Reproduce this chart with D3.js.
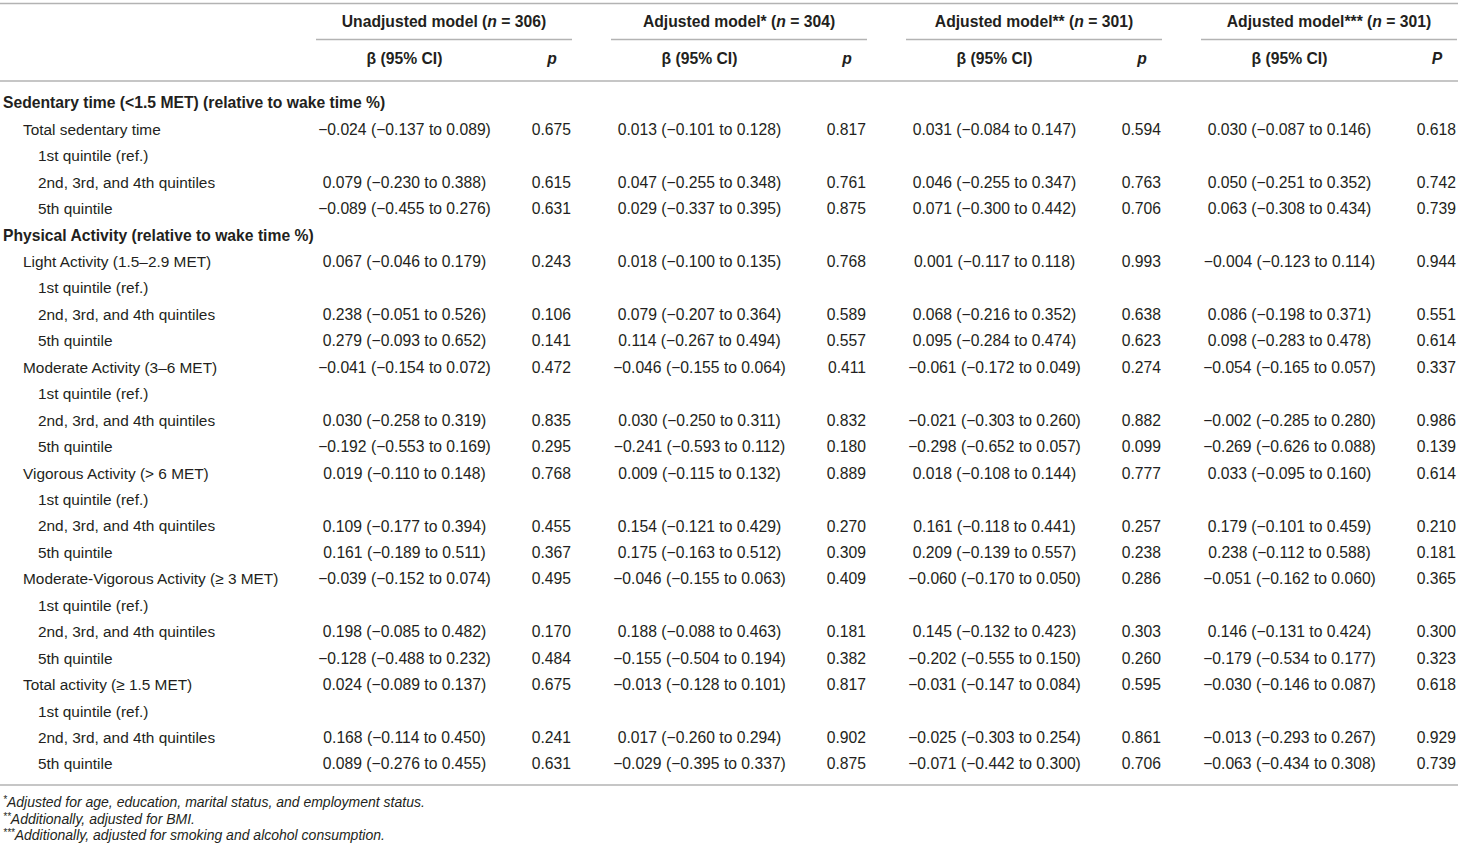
<!DOCTYPE html>
<html>
<head>
<meta charset="utf-8">
<script src="https://cdn.jsdelivr.net/npm/d3@7"></script>
<style>
html,body{margin:0;padding:0;background:#fff;}
svg{display:block;font-family:"Liberation Sans",Arial,Helvetica,sans-serif;}
</style>
</head>
<body>
<svg id="chart" width="1458" height="852"></svg>
<script>
// ---- data ----
const rowLabels = [
  "Sedentary time (<1.5 MET) (relative to wake time %)",
  "Total sedentary time", "1st quintile (ref.)", "2nd, 3rd, and 4th quintiles", "5th quintile",
  "Physical Activity (relative to wake time %)",
  "Light Activity (1.5\u20132.9 MET)", "1st quintile (ref.)", "2nd, 3rd, and 4th quintiles", "5th quintile",
  "Moderate Activity (3\u20136 MET)", "1st quintile (ref.)", "2nd, 3rd, and 4th quintiles", "5th quintile",
  "Vigorous Activity (> 6 MET)", "1st quintile (ref.)", "2nd, 3rd, and 4th quintiles", "5th quintile",
  "Moderate-Vigorous Activity (\u2265 3 MET)", "1st quintile (ref.)", "2nd, 3rd, and 4th quintiles", "5th quintile",
  "Total activity (\u2265 1.5 MET)", "1st quintile (ref.)", "2nd, 3rd, and 4th quintiles", "5th quintile"
];
const rowLevels = [0,1,2,2,2,0,1,2,2,2,1,2,2,2,1,2,2,2,1,2,2,2,1,2,2,2];

const modelNames = ["Unadjusted model", "Adjusted model*", "Adjusted model**", "Adjusted model***"];
const modelN = [306, 304, 301, 301];
const pHeaders = ["p", "p", "p", "P"];

// each entry: [beta, lower, upper, p]; null = no estimate
const model1 = [null,
  [-0.024,-0.137,0.089,0.675], null, [0.079,-0.230,0.388,0.615], [-0.089,-0.455,0.276,0.631],
  null,
  [0.067,-0.046,0.179,0.243], null, [0.238,-0.051,0.526,0.106], [0.279,-0.093,0.652,0.141],
  [-0.041,-0.154,0.072,0.472], null, [0.030,-0.258,0.319,0.835], [-0.192,-0.553,0.169,0.295],
  [0.019,-0.110,0.148,0.768], null, [0.109,-0.177,0.394,0.455], [0.161,-0.189,0.511,0.367],
  [-0.039,-0.152,0.074,0.495], null, [0.198,-0.085,0.482,0.170], [-0.128,-0.488,0.232,0.484],
  [0.024,-0.089,0.137,0.675], null, [0.168,-0.114,0.450,0.241], [0.089,-0.276,0.455,0.631]];
const model2 = [null,
  [0.013,-0.101,0.128,0.817], null, [0.047,-0.255,0.348,0.761], [0.029,-0.337,0.395,0.875],
  null,
  [0.018,-0.100,0.135,0.768], null, [0.079,-0.207,0.364,0.589], [0.114,-0.267,0.494,0.557],
  [-0.046,-0.155,0.064,0.411], null, [0.030,-0.250,0.311,0.832], [-0.241,-0.593,0.112,0.180],
  [0.009,-0.115,0.132,0.889], null, [0.154,-0.121,0.429,0.270], [0.175,-0.163,0.512,0.309],
  [-0.046,-0.155,0.063,0.409], null, [0.188,-0.088,0.463,0.181], [-0.155,-0.504,0.194,0.382],
  [-0.013,-0.128,0.101,0.817], null, [0.017,-0.260,0.294,0.902], [-0.029,-0.395,0.337,0.875]];
const model3 = [null,
  [0.031,-0.084,0.147,0.594], null, [0.046,-0.255,0.347,0.763], [0.071,-0.300,0.442,0.706],
  null,
  [0.001,-0.117,0.118,0.993], null, [0.068,-0.216,0.352,0.638], [0.095,-0.284,0.474,0.623],
  [-0.061,-0.172,0.049,0.274], null, [-0.021,-0.303,0.260,0.882], [-0.298,-0.652,0.057,0.099],
  [0.018,-0.108,0.144,0.777], null, [0.161,-0.118,0.441,0.257], [0.209,-0.139,0.557,0.238],
  [-0.060,-0.170,0.050,0.286], null, [0.145,-0.132,0.423,0.303], [-0.202,-0.555,0.150,0.260],
  [-0.031,-0.147,0.084,0.595], null, [-0.025,-0.303,0.254,0.861], [-0.071,-0.442,0.300,0.706]];
const model4 = [null,
  [0.030,-0.087,0.146,0.618], null, [0.050,-0.251,0.352,0.742], [0.063,-0.308,0.434,0.739],
  null,
  [-0.004,-0.123,0.114,0.944], null, [0.086,-0.198,0.371,0.551], [0.098,-0.283,0.478,0.614],
  [-0.054,-0.165,0.057,0.337], null, [-0.002,-0.285,0.280,0.986], [-0.269,-0.626,0.088,0.139],
  [0.033,-0.095,0.160,0.614], null, [0.179,-0.101,0.459,0.210], [0.238,-0.112,0.588,0.181],
  [-0.051,-0.162,0.060,0.365], null, [0.146,-0.131,0.424,0.300], [-0.179,-0.534,0.177,0.323],
  [-0.030,-0.146,0.087,0.618], null, [-0.013,-0.293,0.267,0.929], [-0.063,-0.434,0.308,0.739]];
const models = [model1, model2, model3, model4];

const footnoteMarks = ["*", "**", "***"];
const footnotes = [
  "Adjusted for age, education, marital status, and employment status.",
  "Additionally, adjusted for BMI.",
  "Additionally, adjusted for smoking and alcohol consumption."
];

// ---- drawing ----
const svg = d3.select("#chart");
const W = 1458;
const txt = "#231f20", rule = "#b3b3b3";
const fs = 15.7, fsLab = 15.4;

const y = d3.scaleLinear().domain([0, rowLabels.length - 1]).range([103, 764]);
const gx = d3.scalePoint().domain(d3.range(4)).range([316, 1201]);
const groupW = 256, betaOff = 88.5;
const indent = [3, 23, 38];
const f3 = d3.format(".3f");

// rules
const rules = [
  {x1: 0, x2: W, y: 3.5},
  {x1: 0, x2: W, y: 81},
  {x1: 0, x2: W, y: 785}
];
svg.selectAll("line.rule").data(rules).join("line")
  .attr("x1", d => d.x1).attr("x2", d => d.x2)
  .attr("y1", d => d.y).attr("y2", d => d.y)
  .attr("stroke", rule).attr("stroke-width", 1.6);
svg.selectAll("line.grp").data(d3.range(4)).join("line")
  .attr("x1", i => gx(i)).attr("x2", i => Math.min(W, gx(i) + groupW))
  .attr("y1", 39.5).attr("y2", 39.5)
  .attr("stroke", rule).attr("stroke-width", 1.6);

// header row 1
const h1 = svg.selectAll("text.h1").data(d3.range(4)).join("text")
  .attr("x", i => gx(i) + groupW / 2).attr("y", 22).attr("dy", "0.35em")
  .attr("text-anchor", "middle").attr("font-weight", "bold")
  .attr("font-size", fs).attr("fill", txt);
h1.append("tspan").text(i => modelNames[i] + " (");
h1.append("tspan").attr("font-style", "italic").text("n");
h1.append("tspan").text(i => " = " + modelN[i] + ")");

// header row 2
svg.selectAll("text.h2b").data(d3.range(4)).join("text")
  .attr("x", i => gx(i) + betaOff).attr("y", 59).attr("dy", "0.35em")
  .attr("text-anchor", "middle").attr("font-weight", "bold")
  .attr("font-size", fs).attr("fill", txt)
  .text("\u03b2 (95% CI)");
svg.selectAll("text.h2p").data(d3.range(4)).join("text")
  .attr("x", i => gx(i) + groupW - 20).attr("y", 59).attr("dy", "0.35em")
  .attr("text-anchor", "middle").attr("font-weight", "bold").attr("font-style", "italic")
  .attr("font-size", fs).attr("fill", txt)
  .text(i => pHeaders[i]);

// row labels
svg.selectAll("text.lab").data(rowLabels).join("text")
  .attr("x", (d, i) => indent[rowLevels[i]]).attr("y", (d, i) => y(i)).attr("dy", "0.35em")
  .attr("font-weight", (d, i) => rowLevels[i] === 0 ? "bold" : "normal")
  .attr("font-size", (d, i) => rowLevels[i] === 0 ? fs : fsLab).attr("fill", txt)
  .text(d => d);

// values
models.forEach((m, mi) => {
  const g = svg.append("g");
  const cells = m.map((v, i) => ({v, i})).filter(d => d.v);
  g.selectAll("text.b").data(cells).join("text")
    .attr("x", gx(mi) + betaOff).attr("y", d => y(d.i)).attr("dy", "0.35em")
    .attr("text-anchor", "middle").attr("font-size", fs).attr("fill", txt)
    .text(d => `${f3(d.v[0])} (${f3(d.v[1])} to ${f3(d.v[2])})`);
  g.selectAll("text.p").data(cells).join("text")
    .attr("x", Math.min(W - 1.5, gx(mi) + groupW - 1)).attr("y", d => y(d.i)).attr("dy", "0.35em")
    .attr("text-anchor", "end").attr("font-size", fs).attr("fill", txt)
    .text(d => f3(d.v[3]));
});

// footnotes (y = baseline)
const fn = svg.selectAll("text.fn").data(footnotes).join("text")
  .attr("x", 3).attr("y", (d, i) => 807 + i * 16.7)
  .attr("font-style", "italic").attr("font-size", 14).attr("fill", txt);
fn.append("tspan").attr("font-size", 10).attr("dy", -4).text((d, i) => footnoteMarks[i]);
fn.append("tspan").attr("dy", 4).text(d => d);
</script>
</body>
</html>
